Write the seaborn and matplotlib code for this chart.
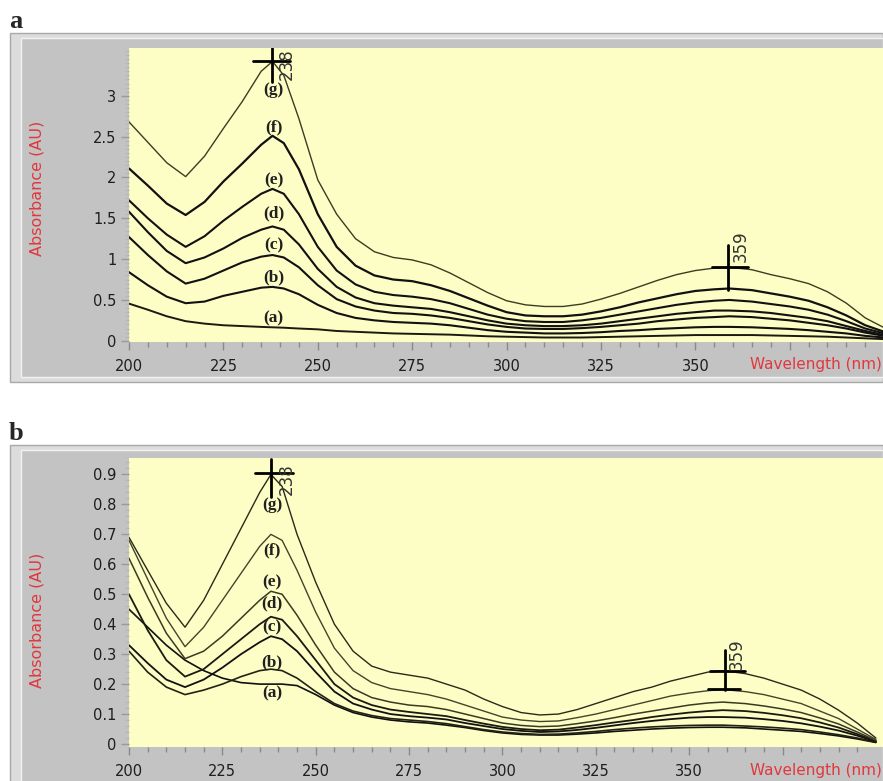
import numpy as np
import pandas as pd
import matplotlib
matplotlib.use("Agg")
import matplotlib.pyplot as plt
from matplotlib.patches import Rectangle
import seaborn as sns

# ---------------- data ----------------
wavelength = [200, 205, 210, 215, 220, 225, 230, 235, 238, 241,
              245, 250, 255, 260, 265, 270, 275, 280, 285, 290,
              295, 300, 305, 310, 315, 320, 325, 330, 335, 340,
              345, 350, 355, 359, 365, 370, 375, 380, 385, 390,
              395, 400]

sample_names = ["a", "b", "c", "d", "e", "f", "g"]

# panel a
a_g = [2.68, 2.43, 2.18, 2.01, 2.26, 2.60, 2.93, 3.30, 3.42, 3.25,
       2.72, 1.97, 1.55, 1.25, 1.09, 1.02, 0.99, 0.93, 0.83, 0.71,
       0.59, 0.49, 0.44, 0.42, 0.42, 0.45, 0.51, 0.58, 0.66, 0.74,
       0.81, 0.86, 0.89, 0.90, 0.87, 0.81, 0.76, 0.70, 0.60, 0.46,
       0.28, 0.16]
a_f = [2.11, 1.90, 1.68, 1.54, 1.70, 1.95, 2.17, 2.40, 2.51, 2.42,
       2.10, 1.55, 1.15, 0.92, 0.80, 0.75, 0.73, 0.68, 0.61, 0.52,
       0.43, 0.35, 0.31, 0.30, 0.30, 0.32, 0.36, 0.41, 0.47, 0.52,
       0.57, 0.61, 0.63, 0.64, 0.62, 0.58, 0.54, 0.49, 0.41, 0.31,
       0.19, 0.11]
a_e = [1.72, 1.50, 1.30, 1.15, 1.28, 1.47, 1.64, 1.80, 1.86, 1.80,
       1.55, 1.15, 0.86, 0.69, 0.60, 0.56, 0.54, 0.51, 0.46, 0.39,
       0.32, 0.27, 0.24, 0.23, 0.23, 0.25, 0.28, 0.32, 0.36, 0.40,
       0.44, 0.47, 0.49, 0.50, 0.48, 0.45, 0.42, 0.38, 0.32, 0.24,
       0.15, 0.09]
a_d = [1.58, 1.33, 1.10, 0.95, 1.02, 1.13, 1.26, 1.36, 1.40, 1.36,
       1.18, 0.88, 0.66, 0.53, 0.46, 0.43, 0.41, 0.39, 0.35, 0.30,
       0.25, 0.21, 0.19, 0.18, 0.18, 0.19, 0.21, 0.24, 0.27, 0.30,
       0.33, 0.35, 0.37, 0.37, 0.36, 0.34, 0.31, 0.28, 0.24, 0.18,
       0.12, 0.07]
a_c = [1.27, 1.05, 0.85, 0.70, 0.76, 0.86, 0.96, 1.03, 1.05, 1.02,
       0.90, 0.68, 0.51, 0.42, 0.37, 0.34, 0.33, 0.31, 0.28, 0.24,
       0.20, 0.17, 0.15, 0.145, 0.145, 0.155, 0.17, 0.19, 0.21, 0.24,
       0.26, 0.28, 0.29, 0.30, 0.29, 0.27, 0.25, 0.22, 0.19, 0.15,
       0.10, 0.06]
a_b = [0.84, 0.68, 0.54, 0.46, 0.48, 0.55, 0.60, 0.65, 0.66, 0.64,
       0.57, 0.44, 0.34, 0.28, 0.25, 0.23, 0.22, 0.21, 0.19, 0.16,
       0.13, 0.11, 0.10, 0.09, 0.09, 0.095, 0.105, 0.12, 0.13, 0.145,
       0.155, 0.165, 0.17, 0.17, 0.165, 0.155, 0.145, 0.13, 0.11, 0.09,
       0.06, 0.04]
a_a = [0.455, 0.38, 0.30, 0.24, 0.21, 0.19, 0.18, 0.17, 0.165, 0.16,
       0.15, 0.14, 0.12, 0.11, 0.10, 0.09, 0.085, 0.08, 0.075, 0.065,
       0.055, 0.05, 0.045, 0.04, 0.04, 0.04, 0.045, 0.05, 0.055, 0.06,
       0.065, 0.07, 0.07, 0.07, 0.07, 0.065, 0.06, 0.055, 0.05, 0.04,
       0.03, 0.02]

# panel b
b_g = [0.69, 0.58, 0.47, 0.39, 0.48, 0.60, 0.72, 0.84, 0.90, 0.86,
       0.70, 0.54, 0.40, 0.31, 0.26, 0.24, 0.23, 0.22, 0.20, 0.18,
       0.15, 0.125, 0.105, 0.097, 0.10, 0.115, 0.135, 0.155, 0.175, 0.19,
       0.21, 0.225, 0.24, 0.245, 0.235, 0.22, 0.20, 0.18, 0.15, 0.113,
       0.07, 0.02]
b_f = [0.68, 0.55, 0.42, 0.325, 0.39, 0.48, 0.57, 0.66, 0.70, 0.68,
       0.58, 0.44, 0.32, 0.245, 0.205, 0.185, 0.175, 0.165, 0.15, 0.13,
       0.11, 0.09, 0.08, 0.075, 0.077, 0.088, 0.10, 0.115, 0.13, 0.145,
       0.16, 0.17, 0.178, 0.182, 0.175, 0.165, 0.15, 0.135, 0.11, 0.085,
       0.05, 0.015]
b_e = [0.62, 0.49, 0.37, 0.285, 0.31, 0.36, 0.42, 0.48, 0.51, 0.50,
       0.43, 0.33, 0.24, 0.185, 0.155, 0.14, 0.13, 0.125, 0.115, 0.10,
       0.085, 0.07, 0.062, 0.058, 0.06, 0.068, 0.077, 0.088, 0.10, 0.11,
       0.12, 0.13, 0.137, 0.14, 0.135, 0.127, 0.117, 0.105, 0.087, 0.067,
       0.04, 0.012]
b_d = [0.50, 0.38, 0.28, 0.225, 0.25, 0.30, 0.35, 0.40, 0.425, 0.415,
       0.36, 0.28, 0.20, 0.155, 0.13, 0.115, 0.107, 0.10, 0.093, 0.08,
       0.068, 0.057, 0.05, 0.046, 0.048, 0.055, 0.063, 0.072, 0.08, 0.09,
       0.098, 0.105, 0.11, 0.113, 0.11, 0.104, 0.096, 0.086, 0.072, 0.055,
       0.033, 0.01]
b_c = [0.33, 0.27, 0.215, 0.19, 0.215, 0.255, 0.30, 0.34, 0.36, 0.35,
       0.31, 0.24, 0.175, 0.135, 0.115, 0.10, 0.093, 0.088, 0.082, 0.07,
       0.06, 0.05, 0.044, 0.04, 0.042, 0.047, 0.054, 0.062, 0.07, 0.077,
       0.083, 0.088, 0.09, 0.09, 0.088, 0.083, 0.077, 0.069, 0.058, 0.045,
       0.028, 0.008]
b_b = [0.31, 0.24, 0.19, 0.165, 0.18, 0.20, 0.225, 0.245, 0.25, 0.245,
       0.22, 0.175, 0.135, 0.11, 0.095, 0.085, 0.08, 0.075, 0.068, 0.058,
       0.048, 0.04, 0.035, 0.032, 0.033, 0.037, 0.042, 0.048, 0.053, 0.057,
       0.06, 0.062, 0.063, 0.063, 0.06, 0.057, 0.053, 0.048, 0.04, 0.031,
       0.02, 0.006]
b_a = [0.45, 0.39, 0.33, 0.28, 0.245, 0.22, 0.205, 0.20, 0.20, 0.20,
       0.195, 0.165, 0.13, 0.105, 0.09, 0.08, 0.074, 0.07, 0.063, 0.055,
       0.045, 0.037, 0.032, 0.03, 0.03, 0.033, 0.037, 0.042, 0.046, 0.05,
       0.053, 0.055, 0.056, 0.056, 0.054, 0.05, 0.046, 0.042, 0.035, 0.027,
       0.017, 0.005]

# label positions (absorbance) of the (a)..(g) annotations at 238 nm
a_label_y = [0.275, 0.78, 1.17, 1.56, 1.96, 2.61, 3.07]
b_label_y = [0.17, 0.273, 0.39, 0.47, 0.54, 0.647, 0.797]

x_ticks = [200, 225, 250, 275, 300, 325, 350, 375]
x_ticklabels = ["200", "225", "250", "275", "300", "325", "350", ""]
a_yticks = [0, 0.5, 1, 1.5, 2, 2.5, 3]
a_yticklabels = ["0", "0.5", "1", "1.5", "2", "2.5", "3"]
b_yticks = [0, 0.1, 0.2, 0.3, 0.4, 0.5, 0.6, 0.7, 0.8, 0.9]
b_yticklabels = ["0", "0.1", "0.2", "0.3", "0.4", "0.5", "0.6", "0.7", "0.8", "0.9"]

peak_wl = [238, 359]

# ---------------- style ----------------
sns.set_theme(style="white")
plt.rcParams["font.family"] = ["DejaVu Sans"]

W, H = 883, 781
fig = plt.figure(figsize=(W / 100, H / 100), dpi=100)
fig.patch.set_facecolor("white")

YELLOW = "#fdfdc6"
GRAY = "#c3c3c3"
RED = "#e0383e"
TICK = "#8a8a8a"


def fx(px):
    return px / W


def fy(py):
    return 1 - py / H


def frame(top, bottom):
    # outer light border
    fig.add_artist(Rectangle((fx(10), fy(bottom)), fx(W - 10), (bottom - top) / H,
                             transform=fig.transFigure, facecolor="#dcdcdc",
                             edgecolor="#a8a8a8", linewidth=1.0, zorder=0))
    fig.add_artist(Rectangle((fx(21), fy(bottom - 5)), fx(W - 21), (bottom - top - 10) / H,
                             transform=fig.transFigure, facecolor=GRAY,
                             edgecolor="#f2f2f2", linewidth=1.0, zorder=0))


frame(33, 382)
frame(445, 790)

ax1 = fig.add_axes([fx(129), fy(342), fx(W - 129), (342 - 48) / H])
ax2 = fig.add_axes([fx(129), fy(747), fx(W - 129), (747 - 458) / H])


def make_df(curves):
    frames = []
    for name, vals in zip(sample_names, curves):
        frames.append(pd.DataFrame({"Wavelength": wavelength,
                                    "Absorbance": vals,
                                    "Sample": name}))
    return pd.concat(frames, ignore_index=True)


df_a = make_df([a_a, a_b, a_c, a_d, a_e, a_f, a_g])
df_b = make_df([b_a, b_b, b_c, b_d, b_e, b_f, b_g])

styles_a = {"a": ("#1a1a10", 1.4), "b": ("#111111", 1.5), "c": ("#111111", 1.5),
            "d": ("#111111", 1.5), "e": ("#111111", 1.5), "f": ("#111111", 1.6),
            "g": ("#3c3c22", 1.0)}
styles_b = {"a": ("#111111", 1.2), "b": ("#222214", 1.2), "c": ("#111111", 1.3),
            "d": ("#1a1a10", 1.3), "e": ("#3a3a22", 1.1), "f": ("#44442a", 1.0),
            "g": ("#2a2a1a", 1.0)}


def setup(ax, df, styles, ylim, xlim, yticks, yticklabels, yminor, label_y):
    ax.set_facecolor(YELLOW)
    for name in sample_names:
        c, lw = styles[name]
        sns.lineplot(data=df[df["Sample"] == name], x="Wavelength", y="Absorbance",
                     ax=ax, color=c, linewidth=lw, estimator=None, sort=False,
                     legend=False)
    ax.set_xlim(*xlim)
    ax.set_ylim(*ylim)
    for s in ax.spines.values():
        s.set_visible(False)
    ax.set_xticks(x_ticks)
    ax.set_xticklabels(x_ticklabels)
    ax.set_xticks(np.arange(200, 400, 5), minor=True)
    ax.set_yticks(yticks)
    ax.set_yticklabels(yticklabels)
    ax.set_yticks(yminor, minor=True)
    ax.tick_params(axis="x", which="major", direction="out", length=6, width=1,
                   color=TICK, labelsize=10.5, pad=6, labelcolor="#1e1e1e",
                   bottom=True)
    ax.tick_params(axis="x", which="minor", direction="out", length=3.5, width=1,
                   color=TICK, bottom=True)
    ax.tick_params(axis="y", which="major", direction="out", length=6, width=1,
                   color="#9a9a9a", labelsize=10.5, pad=3, labelcolor="#1e1e1e",
                   left=True)
    ax.tick_params(axis="y", which="minor", direction="out", length=3, width=1,
                   color="#b8b8b8", left=True)
    ax.set_xlabel("")
    ax.set_ylabel("")
    for name, ly in zip(sample_names, label_y):
        ax.text(238.3, ly, "(" + name + ")", ha="center", va="center",
                fontsize=12.5, fontweight="bold", color="#202020",
                family=["Liberation Serif", "DejaVu Serif"])


setup(ax1, df_a, styles_a, (-0.015, 3.585), (200, 399.7), a_yticks, a_yticklabels,
      np.arange(0, 3.56, 0.05), a_label_y)
setup(ax2, df_b, styles_b, (-0.01, 0.955), (200, 401.9), b_yticks, b_yticklabels,
      np.arange(0, 0.95, 0.02), b_label_y)

# peak markers - panel a
ax1.plot([232.8, 242.6], [a_g[8], a_g[8]], color="black", lw=2, clip_on=True)
ax1.plot([peak_wl[0], peak_wl[0]], [3.165, 3.58], color="black", lw=2)
ax1.text(239.4, 3.19, str(peak_wl[0]), rotation=90, ha="left", va="bottom",
         fontsize=12, color="#333333", clip_on=True)
ax1.plot([354.4, 364.0], [a_g[33], a_g[33]], color="black", lw=2)
ax1.plot([358.6, 358.6], [0.62, 1.17], color="black", lw=2)
ax1.text(359.7, 0.96, str(peak_wl[1]), rotation=90, ha="left", va="bottom",
         fontsize=12, color="#333333")

# peak markers - panel b
ax2.plot([233.7, 243.8], [b_g[8] + 0.004, b_g[8] + 0.004], color="black", lw=2)
ax2.plot([238.1, 238.1], [0.824, 0.95], color="black", lw=2)
ax2.text(239.8, 0.83, str(peak_wl[0]), rotation=90, ha="left", va="bottom",
         fontsize=12, color="#333333", clip_on=True)
ax2.plot([355.5, 365.0], [b_g[33], b_g[33]], color="black", lw=2)
ax2.plot([355.0, 363.5], [b_f[33], b_f[33]], color="black", lw=2)
ax2.plot([359.5, 359.5], [0.18, 0.313], color="black", lw=2)
ax2.text(360.4, 0.247, str(peak_wl[1]), rotation=90, ha="left", va="bottom",
         fontsize=12, color="#333333")

# axis titles (red)
fig.text(fx(37), fy(188), "Absorbance (AU)", rotation=90, ha="center", va="center",
         color=RED, fontsize=11.5)
fig.text(fx(37), fy(620), "Absorbance (AU)", rotation=90, ha="center", va="center",
         color=RED, fontsize=11.5)
fig.text(fx(882), fy(365), "Wavelength (nm)", ha="right", va="center",
         color=RED, fontsize=11)
fig.text(fx(882), fy(770), "Wavelength (nm)", ha="right", va="center",
         color=RED, fontsize=11)

# panel letters
fig.text(fx(9), fy(28), "a", ha="left", va="baseline", fontsize=19,
         fontweight="bold", family=["Liberation Serif", "DejaVu Serif"])
fig.text(fx(9), fy(440), "b", ha="left", va="baseline", fontsize=19,
         fontweight="bold", family=["Liberation Serif", "DejaVu Serif"])

fig.savefig("out.png", dpi=100, facecolor=fig.get_facecolor())
